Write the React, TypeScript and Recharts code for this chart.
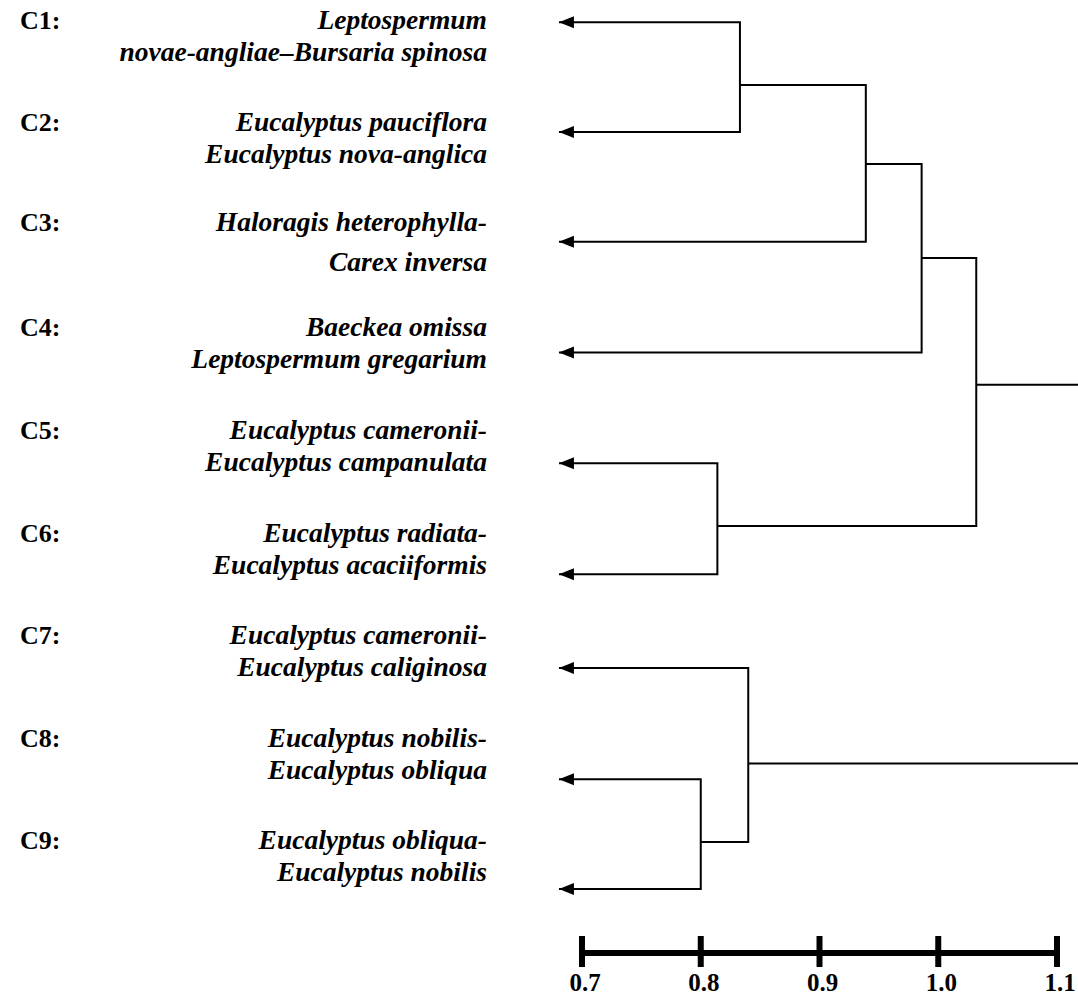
import { ComposedChart, Line, Scatter, XAxis, YAxis, ReferenceLine } from 'recharts';

// cluster labels
const clusterIds = ['C1', 'C2', 'C3', 'C4', 'C5', 'C6', 'C7', 'C8', 'C9'];
const labelTop = [
  'Leptospermum',
  'Eucalyptus pauciflora',
  'Haloragis heterophylla-',
  'Baeckea omissa',
  'Eucalyptus cameronii-',
  'Eucalyptus radiata-',
  'Eucalyptus cameronii-',
  'Eucalyptus nobilis-',
  'Eucalyptus obliqua-',
];
const labelBottom = [
  'novae-angliae\u2013Bursaria spinosa',
  'Eucalyptus nova-anglica',
  'Carex inversa',
  'Leptospermum gregarium',
  'Eucalyptus campanulata',
  'Eucalyptus acaciiformis',
  'Eucalyptus caliginosa',
  'Eucalyptus obliqua',
  'Eucalyptus nobilis',
];
const labelRows = [0, 1, 2, 3, 4, 5, 6, 7, 8];

// leaf positions (row units) and where the leaf arrows point
const leafRows = [-0.14, 0.93, 2.0, 3.08, 4.16, 5.24, 6.155, 7.24, 8.31];
const leafTip = 0.6806;

// merges: children, dissimilarity height, row of the node
const mergeIds = ['m1', 'm2', 'm3', 'm4', 'm5', 'm6', 'm7'];
const mergeLeft = ['C1', 'm1', 'm2', 'C5', 'm3', 'C8', 'C7'];
const mergeRight = ['C2', 'C3', 'C4', 'C6', 'm4', 'C9', 'm6'];
const mergeHeight = [0.833, 0.939, 0.986, 0.814, 1.032, 0.8, 0.84];
const mergeRow = [0.473, 1.243, 2.159, 4.771, 3.394, 7.851, 7.086];
const rootEnd = 1.1177;

const scaleTicks = [0.7, 0.8, 0.9, 1.0, 1.1];

const X_DOMAIN: [number, number] = [0.66463, 1.11768];
const Y_DOMAIN: [number, number] = [-0.35575, 8.9327];

const FONT = '"Liberation Serif", "Times New Roman", serif';

function nodePos(id: string) {
  const li = clusterIds.indexOf(id);
  if (li >= 0) return { x: leafTip, y: leafRows[li] };
  const mi = mergeIds.indexOf(id);
  return { x: mergeHeight[mi], y: mergeRow[mi] };
}

const segments = mergeIds.map((id, i) => {
  const a = nodePos(mergeLeft[i]);
  const b = nodePos(mergeRight[i]);
  const h = mergeHeight[i];
  return [a, { x: h, y: a.y }, { x: h, y: b.y }, b];
});

const used = new Set([...mergeLeft, ...mergeRight]);
const stems = mergeIds
  .filter((id) => !used.has(id))
  .map((id) => {
    const p = nodePos(id);
    return [p, { x: rootEnd, y: p.y }];
  });

const arrowData = leafRows.map((r) => ({ x: leafTip, y: r }));

const Arrow = (props: any) => {
  const { cx, cy } = props;
  return <polygon points={`${cx},${cy} ${cx + 15},${cy - 6} ${cx + 15},${cy + 6}`} fill="#000" />;
};

const LabelTick = (props: any) => {
  const { y, payload } = props;
  const i = payload.value as number;
  const wide = clusterIds[i] === 'C3';
  const y1 = wide ? y - 11 : y - 8;
  const y2 = wide ? y + 29 : y + 24;
  return (
    <g fontFamily={FONT} fontWeight="bold" fill="#000">
      <text x={20} y={y1} fontSize={26} textAnchor="start">{clusterIds[i]}:</text>
      <text x={487} y={y1} fontSize={27.5} textAnchor="end" fontStyle="italic">{labelTop[i]}</text>
      <text x={487} y={y2} fontSize={27.5} textAnchor="end" fontStyle="italic">{labelBottom[i]}</text>
    </g>
  );
};

const ScaleTick = (props: any) => {
  const { x, y, payload } = props;
  return (
    <g>
      <line x1={x} x2={x} y1={y - 17} y2={y + 14} stroke="#000" strokeWidth={6} />
      <text x={x + 3} y={y + 38} textAnchor="middle" fontFamily={FONT} fontSize={25} fontWeight="bold" fill="#000">
        {payload.value.toFixed(1)}
      </text>
    </g>
  );
};

export default function App() {
  return (
    <div style={{ position: 'absolute', left: 0, top: 0, width: 1078, height: 998, background: '#fff' }}>
      <ComposedChart width={1078} height={998} margin={{ top: 0, right: 0, bottom: 0, left: 0 }}>
        <XAxis
          type="number"
          dataKey="x"
          domain={X_DOMAIN}
          allowDataOverflow
          ticks={scaleTicks}
          interval={0}
          height={45}
          axisLine={false}
          tickLine={false}
          tickSize={0}
          tickMargin={0}
          tick={<ScaleTick />}
        />
        <YAxis
          type="number"
          dataKey="y"
          domain={Y_DOMAIN}
          allowDataOverflow
          reversed
          ticks={labelRows}
          interval={0}
          width={540}
          axisLine={false}
          tickLine={false}
          tick={<LabelTick />}
        />
        {segments.map((seg, i) => (
          <Line
            key={`seg-${i}`}
            data={seg}
            dataKey="y"
            type="linear"
            stroke="#000"
            strokeWidth={2}
            dot={false}
            activeDot={false}
            isAnimationActive={false}
          />
        ))}
        {stems.map((seg, i) => (
          <Line
            key={`stem-${i}`}
            data={seg}
            dataKey="y"
            type="linear"
            stroke="#000"
            strokeWidth={2}
            dot={false}
            activeDot={false}
            isAnimationActive={false}
          />
        ))}
        <Scatter data={arrowData} shape={<Arrow />} isAnimationActive={false} />
        <ReferenceLine
          segment={[
            { x: scaleTicks[0], y: Y_DOMAIN[1] },
            { x: scaleTicks[scaleTicks.length - 1], y: Y_DOMAIN[1] },
          ]}
          stroke="#000"
          strokeWidth={6}
          ifOverflow="visible"
        />
      </ComposedChart>
    </div>
  );
}
